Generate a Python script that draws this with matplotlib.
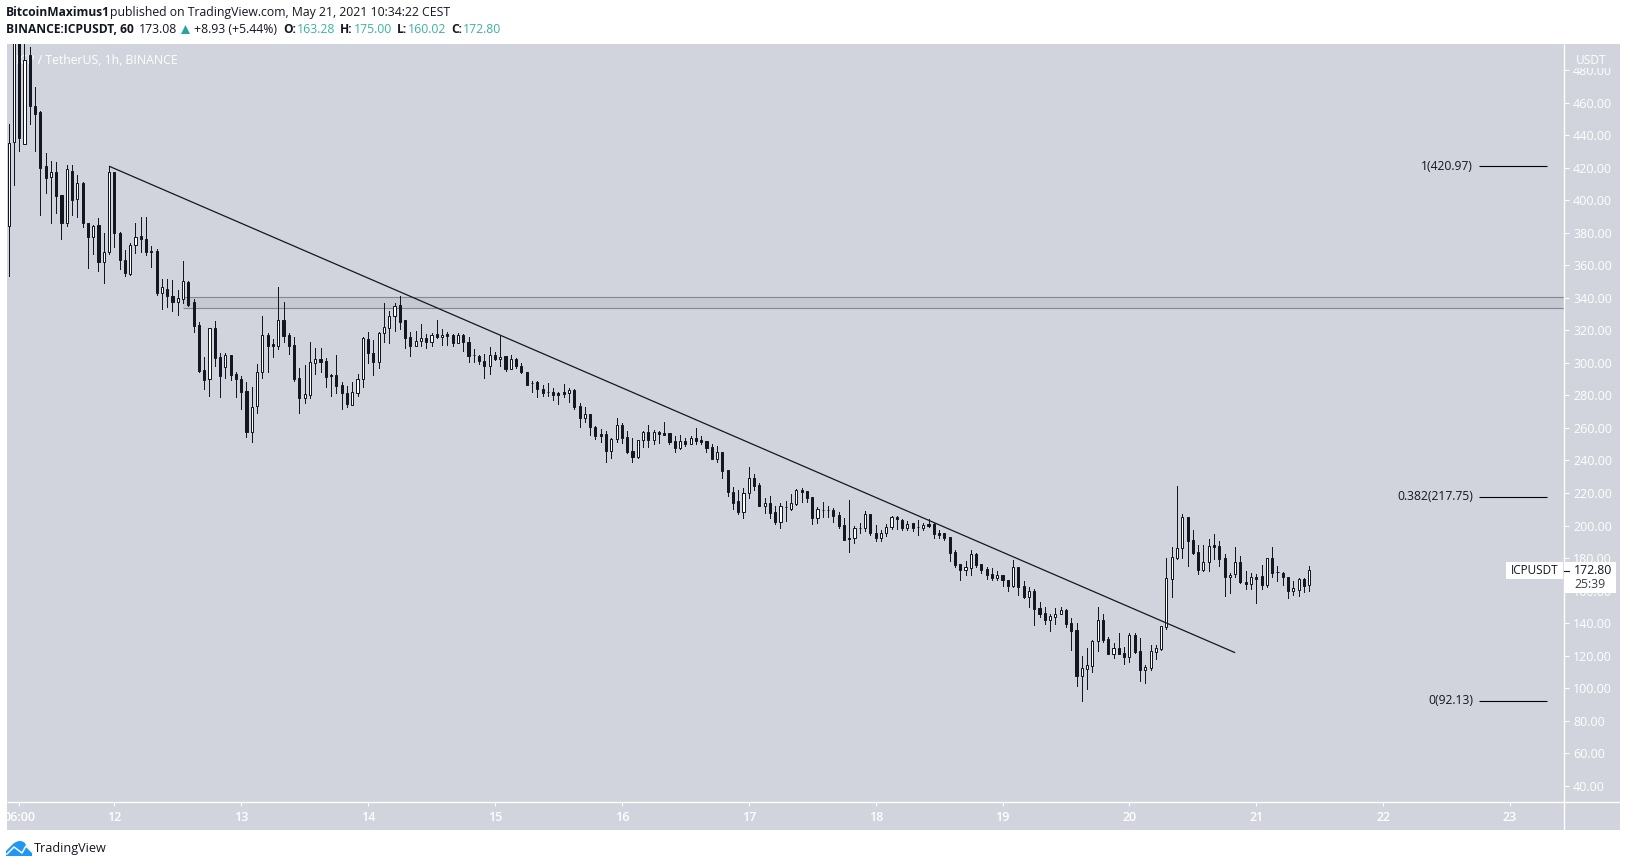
import matplotlib
matplotlib.use('Agg')
import matplotlib.pyplot as plt
from matplotlib.patches import Rectangle, Polygon, Ellipse

plt.rcParams['font.family'] = ['Open Sans', 'DejaVu Sans']

# hourly ICP/USDT candles; index 0 = May 11 04:00
opens = [
    384.4, 436, 510, 434.4, 489.4, 458.2, 454.3, 421, 414.5, 417.6,
    403, 385.9, 417.8, 400.6, 410.4, 385.9, 377.4, 384.8, 361.9, 368,
    417.2, 379.7, 363.3, 354.7, 372.5, 378, 376.2, 368.6, 368.8, 342.9,
    345.3, 341.4, 337.7, 339.6, 350, 337.7, 323.4, 295.7, 290, 321.3,
    303.5, 297.3, 304.9, 293.2, 290.2, 282.6, 257.8, 273.2, 294.3, 317,
    311.5, 310.7, 326.2, 317, 310.9, 290.6, 278.7, 280.3, 300.2, 302.3,
    301, 292.4, 292.6, 286.5, 281.8, 274.4, 281.8, 290, 314.6, 306.4,
    300.8, 318.2, 321.7, 328.7, 335.5, 326.4, 315.8, 310.7, 313.7, 315.2,
    313.1, 317.6, 316.2, 317.6, 317.2, 312.5, 317.2, 313.1, 304.7, 304.1,
    301.2, 298.4, 304.7, 302.3, 304.3, 296.5, 302.5, 298.2, 294.3, 287.9,
    288.3, 283.8, 282, 281.9, 281.5, 282.1, 281.7, 283.4, 273.5, 266.3,
    268.6, 260.6, 256.1, 256.1, 246, 253, 262, 254.2, 245.6, 242.1,
    252.4, 257.3, 252.8, 257.3, 256.7, 256.7, 251.8, 247.9, 251.8, 250.3,
    253.6, 252.4, 251.8, 248.3, 241.1, 245, 233.9, 220.6, 214.9, 208.5,
    220, 229, 224.9, 212.2, 213.6, 208.3, 202.4, 211.6, 210.2, 213.2,
    221.9, 221, 217.5, 204.8, 209.8, 209.4, 209.8, 206.5, 200.3, 192.1,
    192.1, 198.3, 198.3, 206.9, 195.2, 192.5, 195.2, 198.9, 205, 203.4,
    198.3, 201.3, 198.9, 198.7, 201, 200.7, 195.6, 195.2, 192.7, 183.7,
    176.1, 172.6, 174.1, 182.5, 176.1, 173, 170.2, 167.5, 169.6, 166.3,
    163, 174.3, 162.7, 156.1, 159.6, 149.1, 146, 142.2, 144, 145.8,
    148.1, 139.9, 135.8, 107.7, 111.6, 113.9, 128.8, 141.7, 130, 121.2,
    124.5, 121.5, 119.4, 132.5, 122.7, 111.4, 112.2, 122.1, 124.1, 137.8,
    167.4, 180.3, 186, 205.1, 190.9, 183.6, 172.9, 177.4, 187.9, 187.3,
    179.9, 168.2, 170.2, 177.4, 165.3, 164.3, 168.2, 168.8, 163.7, 179.9,
    171.3, 170.6, 168.2, 160, 160.6, 167, 163.28,
]
closes = [
    435, 510, 438, 486, 458.2, 453.3, 420, 414, 417.2, 402.9,
    385.9, 419, 400.2, 410.4, 385.9, 377.6, 384.4, 361.9, 368, 417.2,
    379.7, 363.3, 355.1, 372.5, 377.6, 376, 368.4, 368.2, 343.2, 346.5,
    341.4, 337.7, 339.8, 350.2, 335.7, 322.8, 295.3, 289.5, 321.3, 302.9,
    292, 304.9, 292.6, 290.2, 282.4, 257.8, 272.7, 294.3, 317, 310.5,
    310.5, 326.2, 316.8, 310.7, 290.2, 278.7, 280.7, 300.4, 302.3, 300.8,
    291.6, 291.8, 286, 281.8, 274.8, 282, 290, 315.4, 306.4, 300.8,
    318.2, 321.9, 328.7, 335.3, 325.4, 315.6, 310.7, 313.7, 315.2, 313.1,
    317.4, 316, 317.4, 316.8, 312.5, 317.2, 312.9, 304.5, 304.7, 301.4,
    298.4, 304.7, 302.3, 303.9, 296.5, 302.5, 297.8, 294.3, 286.7, 287.9,
    283.8, 281.7, 281.9, 280.5, 280.5, 280.9, 283.4, 273.1, 266.3, 268.4,
    260.4, 255.3, 255.3, 245.8, 253.2, 261.6, 254, 245.4, 242.3, 252.4,
    257.3, 252.8, 257.3, 256.1, 255.9, 251.4, 247.9, 251.8, 250.3, 253.6,
    252.2, 251.6, 247.9, 241.1, 245, 233.7, 220.8, 214, 208.3, 220,
    229, 224.5, 212.2, 213.6, 207.9, 202.2, 212, 211.6, 213.6, 221.9,
    220.8, 217.1, 204.8, 210.1, 209.7, 209.3, 206.1, 199.7, 191.1, 192,
    198.3, 198.2, 206.9, 195.2, 192.5, 195.2, 199.3, 205.2, 204, 198.3,
    200.7, 198.7, 198.8, 200.3, 199.7, 194.8, 194, 192.1, 183.3, 175.7,
    172.6, 174.3, 182.5, 175.5, 172.6, 169.6, 167.5, 169.4, 166.5, 163,
    174.3, 162.4, 156.1, 159.6, 148.9, 145.8, 142.2, 144.2, 145.8, 147.9,
    139.7, 135.4, 107.7, 112.2, 114.1, 128.8, 141.7, 129.7, 121.2, 124.5,
    121.2, 119.4, 132.5, 122.3, 111.4, 112.8, 122.7, 124.5, 138, 167.6,
    180.5, 186, 205.1, 190.7, 183.2, 172.9, 177.4, 187.3, 187.1, 179.7,
    168.2, 169.8, 177.4, 165.3, 164.3, 168.2, 167.4, 163.7, 179.9, 171.1,
    171.2, 168.2, 160, 161.4, 167, 163.1, 172.8,
]
highs = [
    447, 540, 540, 500, 494.5, 469.5, 455, 429, 424.2, 423.4,
    403.3, 421.7, 421.7, 415.6, 411.5, 386.3, 384.8, 389, 380, 420.97,
    417.6, 380.7, 369.4, 373.5, 386.3, 389.5, 389.5, 372.1, 370, 351.7,
    351.7, 351, 344.9, 362.7, 350.4, 339.2, 325.4, 303.9, 321.7, 325.8,
    306, 306, 304.9, 294.7, 292, 288.1, 285.4, 299.2, 328.9, 318.2,
    314.8, 346.5, 337.7, 318.2, 315.8, 296.7, 298.8, 312.7, 309.4, 309,
    302.9, 293.2, 304.9, 288.5, 285.9, 288.1, 293, 315.8, 318.9, 314,
    318.7, 337.1, 332, 336.7, 341.2, 326.4, 319.3, 319.7, 324, 317.8,
    318.2, 326.4, 320.9, 318.9, 317.8, 318.2, 317.6, 315.8, 308.6, 304.9,
    305.5, 309.6, 306.6, 316.6, 304.3, 304.7, 302.9, 299.8, 294.3, 288.9,
    288.9, 286.4, 287.4, 284.4, 282.3, 287, 284.4, 284, 275.1, 272.7,
    268.6, 261.2, 259.4, 258.1, 254, 266.1, 262.9, 258.1, 253.6, 252.6,
    258.1, 261.6, 258.7, 258.1, 263.5, 256.7, 255.3, 255.7, 253.6, 255.3,
    260, 255.3, 251.8, 249.9, 248.9, 245, 233.9, 223.5, 221.8, 223.3,
    236, 231.7, 225.9, 217.1, 218.2, 212, 214, 215.1, 219.4, 222.5,
    222.9, 221, 217.5, 211.6, 214.5, 212.2, 211, 208.3, 204.4, 215.7,
    199.7, 201.4, 208.7, 206.9, 200.3, 197.2, 200.7, 205.9, 205.9, 204,
    202.8, 201.8, 203.4, 201.8, 204, 201.3, 197.2, 195.2, 192.7, 185,
    176.1, 178.2, 184.9, 182.9, 176.1, 174.7, 173.7, 172.2, 169.6, 166.3,
    178.9, 174.3, 165.9, 162.2, 161, 153, 149.9, 145.8, 149.1, 149.9,
    148.7, 143, 139.9, 119.8, 125, 129.7, 149.9, 145.6, 131.3, 127.8,
    133.8, 125.1, 133.8, 133.8, 130.7, 114.1, 126.4, 126.6, 138, 179.9,
    186.6, 224.4, 206.9, 205.1, 197.3, 188.1, 188.1, 191.6, 194.8, 190.5,
    182.5, 170.6, 186.6, 181.3, 172.1, 170.6, 170.2, 175.8, 179.9, 186.6,
    175.2, 171.5, 168.2, 165.9, 167.8, 167.8, 175,
]
lows = [
    353.5, 409.4, 430, 434.4, 447, 430, 391, 404.7, 386.3, 392.4,
    376, 384.2, 391, 390, 383.8, 358.6, 366.8, 356.6, 349.4, 366.8,
    371.5, 358, 353.5, 354, 367.4, 368.4, 366.4, 359.2, 341.8, 333.2,
    334.6, 332.2, 329.5, 336.7, 334.7, 319.3, 294.7, 284, 279.9, 297.8,
    279.3, 291, 289.5, 279.3, 271.5, 254.7, 251.6, 269, 291, 294.3,
    303.9, 308.6, 312.7, 305.5, 288.9, 269.5, 275.2, 278.7, 293, 294.7,
    285.4, 279.9, 281.4, 271.7, 273.1, 274.4, 279.9, 285, 300.2, 292.6,
    296.7, 313.1, 312.5, 319.7, 320.9, 309.4, 304.5, 310.5, 310.5, 309.4,
    310.7, 315.2, 311, 311, 310.5, 312.1, 307.4, 300.8, 300.8, 299.4,
    291, 293.2, 301.8, 298.2, 295.3, 296.3, 297.1, 293.6, 286.5, 282.4,
    279.3, 279.7, 279.7, 277.2, 274.5, 279.2, 276.2, 271.5, 260.8, 263.9,
    255.7, 253.2, 251.2, 239.3, 241.7, 251.6, 251, 244.8, 239.3, 241.7,
    248.5, 248.5, 250.1, 250.9, 255.9, 250.1, 245.2, 247.1, 248.9, 250.1,
    250.1, 250.1, 245.4, 240.9, 239.3, 229.4, 218.4, 210.4, 207.3, 204.8,
    217.1, 221.9, 212.2, 207.9, 204.8, 200.7, 198.7, 203, 209.5, 212.6,
    214.5, 214.3, 200.7, 201.8, 205.4, 205, 202.4, 198.7, 191.1, 183.9,
    189.5, 195.2, 196.8, 194.2, 190.7, 190.7, 193.8, 198.1, 197.7, 197.2,
    197.2, 196.8, 194.4, 197.2, 199.3, 192.5, 192.3, 191.1, 178.2, 174.7,
    166.5, 169.6, 169.6, 174.5, 171, 167.1, 166.5, 166.5, 162.9, 160,
    162, 157.5, 155.7, 150.1, 139.1, 144, 139.7, 135.4, 139.7, 145.6,
    137.8, 123.5, 101.6, 92.13, 99.5, 110.2, 123.1, 128.4, 120.8, 118.8,
    120.8, 115.1, 116.3, 121.9, 104.6, 103.4, 111.2, 118, 123.7, 136.6,
    156.3, 179.3, 179.9, 175.4, 182.5, 170.4, 172.3, 172.1, 179.5, 175.4,
    156.9, 158.8, 168.6, 164.9, 161.2, 161.2, 152.6, 161, 162.5, 168.6,
    166.1, 163.5, 155.7, 157.3, 156.9, 159.4, 160.02,
]

y_ticks = list(range(40, 500, 20))
x_tick_hours = [2, 20, 44, 68, 92, 116, 140, 164, 188, 212, 236, 260, 284]
x_tick_labels = ['06:00', '12', '13', '14', '15', '16', '17', '18', '19', '20', '21', '22', '23']

trend_hours = [19, 232]
trend_prices = [420.97, 121.8]
band_start = 33
band_low, band_high = 333.6, 340.4
fib_levels = [420.97, 217.75, 92.13]
fib_labels = ['1(420.97)', '0.382(217.75)', '0(92.13)']
fib_span = [278.1, 290.9]

DARK = '#131722'
PANEL = '#D1D4DC'
TEAL = '#3BB3A3'
W, H = 1627, 867

fig = plt.figure(figsize=(W / 100, H / 100), dpi=100, facecolor='white')

# grey panel behind plot and both scales
under = fig.add_axes([0, 0, 1, 1], zorder=-1)
under.set_xlim(0, W)
under.set_ylim(H, 0)
under.axis('off')
under.add_patch(Rectangle((7, 44), 1613, 786, color=PANEL, lw=0))

ax = fig.add_axes([7 / W, 1 - 802 / H, 1557 / W, 758 / H], zorder=1)
ax.patch.set_alpha(0)
ax.set_xlim(-0.3, 294.2)
ax.set_ylim(30, 496.1)
for side in ax.spines.values():
    side.set_visible(False)

ax.yaxis.tick_right()
ax.set_yticks(y_ticks)
ax.set_yticklabels([f'{v:.2f}' for v in y_ticks])
ax.set_xticks(x_tick_hours)
ax.set_xticklabels(x_tick_labels, fontweight='semibold')
ax.tick_params(axis='y', colors='white', length=3.6, width=0.72, labelsize=9, pad=3)
ax.tick_params(axis='x', colors='white', length=3, width=0.72, labelsize=9, pad=3.5)

ax.annotate('ICP / TetherUS, 1h, BINANCE', xy=(0, 1), xycoords='axes fraction',
            xytext=(9.5, -16), textcoords='offset pixels', color='white', fontsize=8.8,
            va='center', ha='left', zorder=1.5, annotation_clip=False)

hours = list(range(len(opens)))
ax.vlines(hours, lows, highs, color=DARK, lw=0.72, antialiased=False, zorder=3)
body_low = [min(o, c) for o, c in zip(opens, closes)]
body_size = [abs(c - o) for o, c in zip(opens, closes)]
face = ['white' if c >= o else DARK for o, c in zip(opens, closes)]
ax.bar(hours, body_size, bottom=body_low, width=0.4, color=face, edgecolor=DARK, linewidth=0.72, zorder=3.1)

ax.plot(trend_hours, trend_prices, color=DARK, lw=0.9, zorder=4, solid_capstyle='butt')

ax.axhspan(band_low, band_high, xmin=(band_start + 0.3) / 294.5, xmax=1, color='#787B86', alpha=0.12, lw=0, zorder=1)
ax.hlines([band_low, band_high], band_start, 294.2, color='#84878F', lw=0.8, zorder=1.2)

for level, label in zip(fib_levels, fib_labels):
    ax.hlines(level, fib_span[0], fib_span[1], color='black', lw=0.8, zorder=2)
    ax.annotate(label, xy=(fib_span[0], level), xytext=(-6, 0), textcoords='offset pixels',
                ha='right', va='center', color=DARK, fontsize=8.7)

# header, logo, price tag and scale lines in figure pixels
over = fig.add_axes([0, 0, 1, 1], zorder=5)
over.set_xlim(0, W)
over.set_ylim(H, 0)
over.axis('off')
over.patch.set_alpha(0)

over.plot([1564, 1564], [44, 830], color='white', lw=1.0, solid_capstyle='butt')
over.plot([7, 1620], [802, 802], color='white', lw=1.0, solid_capstyle='butt')
over.add_patch(Rectangle((0, 44), 7, 786, color='white', lw=0))
over.add_patch(Rectangle((1565, 44), 55, 24, color=PANEL, lw=0))
over.text(1591.5, 60, 'USDT', color='white', fontsize=8.6, ha='center', va='center')

over.add_patch(Rectangle((1506, 562), 57, 17, color='white', lw=0))
over.add_patch(Rectangle((1565, 562), 51, 31, color='white', lw=0))
over.plot([1564, 1569], [571, 571], color=DARK, lw=0.8)
over.text(1534.5, 570.5, 'ICPUSDT', color=DARK, fontsize=8.5, ha='center', va='center')
over.text(1574, 570.5, '172.80', color=DARK, fontsize=8.8, ha='left', va='center')
over.text(1574, 584.5, '25:39', color='#3A3E4A', fontsize=8.8, ha='left', va='center')

# two header rows: (x, text, weight, colour)
row1 = [(6, 'BitcoinMaximus1', 'bold', DARK), (110, 'published on TradingView.com, May 21, 2021 10:34:22 CEST', 'normal', DARK)]
row2 = [(6, 'BINANCE:ICPUSDT, 60', 'bold', DARK), (138.4, '173.08', 'normal', DARK),
        (194, '+8.93 (+5.44%)', 'normal', DARK),
        (283, 'O:', 'bold', DARK), (297, '163.28', 'normal', TEAL),
        (340, 'H:', 'bold', DARK), (354, '175.00', 'normal', TEAL),
        (397, 'L:', 'bold', DARK), (408, '160.02', 'normal', TEAL),
        (451, 'C:', 'bold', DARK), (463, '172.80', 'normal', TEAL)]
for y, row in ((12.5, row1), (29.5, row2)):
    for x, txt, weight, col in row:
        size = 8.65 if weight == 'bold' else 8.85
        over.text(x, y, txt, fontsize=size, fontweight=weight, color=col, ha='left', va='center')
over.add_patch(Polygon([(181, 34), (190, 34), (185.5, 25)], color='#26A69A', lw=0))

# logo
blue = '#2196F3'
over.add_patch(Polygon([(6, 856), (6, 851), (14, 843), (20, 841), (27, 846), (32, 852), (32, 856)], color=blue, lw=0))
over.add_patch(Ellipse((20, 846), 12, 10, color=blue, lw=0))
over.plot([7, 14, 22, 26, 32], [854, 847, 853, 846, 852], color='white', lw=1.1)
over.text(34, 848.5, 'TradingView', fontsize=9.1, color=DARK, ha='left', va='center')

fig.savefig('out.png', dpi=100)
